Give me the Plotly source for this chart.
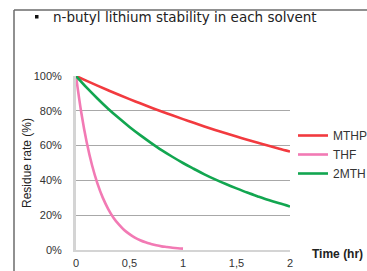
import plotly.graph_objects as go

# ---- data ----
t_long = [0, 0.1, 0.2, 0.3, 0.4, 0.5, 0.6, 0.7, 0.8, 0.9, 1.0,
          1.1, 1.2, 1.3, 1.4, 1.5, 1.6, 1.7, 1.8, 1.9, 2.0]
mthp = [1.0, 0.972, 0.945, 0.918, 0.892, 0.867, 0.843, 0.819, 0.796, 0.774, 0.752,
        0.731, 0.710, 0.690, 0.671, 0.652, 0.634, 0.616, 0.599, 0.582, 0.566]
mth2 = [1.0, 0.933, 0.871, 0.812, 0.758, 0.707, 0.660, 0.616, 0.574, 0.536, 0.500,
        0.467, 0.435, 0.406, 0.379, 0.354, 0.330, 0.308, 0.287, 0.268, 0.250]
t_thf = [0, 0.05, 0.1, 0.15, 0.2, 0.25, 0.3, 0.35, 0.4, 0.45, 0.5,
         0.55, 0.6, 0.65, 0.7, 0.75, 0.8, 0.85, 0.9, 0.95, 1.0]
thf = [1.0, 0.787, 0.619, 0.487, 0.383, 0.301, 0.237, 0.186, 0.147, 0.115, 0.091,
       0.071, 0.056, 0.044, 0.035, 0.027, 0.021, 0.017, 0.013, 0.010, 0.008]

x_tickvals = [0, 0.5, 1, 1.5, 2]
x_ticktext = ["0", "0,5", "1", "1,5", "2"]
y_tickvals = [0, 0.2, 0.4, 0.6, 0.8, 1.0]
y_ticktext = ["0%", "20%", "40%", "60%", "80%", "100%"]

title_text = "n-butyl lithium stability in each solvent"
y_title = "Residue rate (%)"
x_title = "Time (hr)"

W, H = 367, 271
L, R, T, B = 76, 290, 76, 250  # plot area in pixels


def px(xp):
    return (xp - L) / (R - L)


def py(yp):
    return (B - yp) / (B - T)


FONT = "Liberation Sans, Arial, sans-serif"

fig = go.Figure()
fig.add_trace(go.Scatter(x=t_long, y=mthp, name="MTHP", mode="lines",
                         line=dict(color="#f23a3f", width=2.6, shape="spline")))
fig.add_trace(go.Scatter(x=t_thf, y=thf, name="THF", mode="lines",
                         line=dict(color="#f27ab4", width=2.6, shape="spline")))
fig.add_trace(go.Scatter(x=t_long, y=mth2, name="2MTH", mode="lines",
                         line=dict(color="#12a650", width=2.6, shape="spline")))

fig.update_layout(
    width=W, height=H,
    margin=dict(l=L, r=W - R, t=T, b=H - B, autoexpand=False),
    paper_bgcolor="white", plot_bgcolor="white",
    font=dict(family=FONT, size=11, color="#333333"),
    showlegend=True,
    legend=dict(x=px(293), y=py(121), xanchor="left", yanchor="top",
                font=dict(family=FONT, size=12, color="#333333"),
                bgcolor="rgba(0,0,0,0)", borderwidth=0, tracegroupgap=0,
                itemwidth=30),
    xaxis=dict(range=[0, 2], tickvals=x_tickvals, ticktext=x_ticktext,
               showgrid=False, zeroline=False, showline=True,
               linecolor="#d4d4d4", linewidth=2, ticks="",
               ticklabelstandoff=2, automargin=False,
               tickfont=dict(family=FONT, size=11, color="#333333")),
    yaxis=dict(range=[0, 1], tickvals=y_tickvals, ticktext=y_ticktext,
               showgrid=True, gridcolor="#a8a8a8", gridwidth=1,
               zeroline=False, showline=True, linecolor="#d4d4d4", linewidth=3,
               ticks="", ticklabelstandoff=9, automargin=False,
               tickfont=dict(family=FONT, size=11, color="#333333")),
)

# frame lines of the slide box
fig.add_shape(type="line", xref="paper", yref="paper",
              x0=px(14), x1=px(14), y0=py(10), y1=py(275),
              line=dict(color="#6b6b6b", width=1.5))
fig.add_shape(type="line", xref="paper", yref="paper",
              x0=px(14), x1=px(370), y0=py(10), y1=py(10),
              line=dict(color="#6b6b6b", width=1.5))
# bullet
fig.add_shape(type="rect", xref="paper", yref="paper",
              x0=px(35), x1=px(38.5), y0=py(15), y1=py(18.5),
              fillcolor="#111111", line=dict(width=0))

fig.add_annotation(text=title_text, xref="paper", yref="paper",
                   x=px(51), y=py(17), xanchor="left", yanchor="middle",
                   showarrow=False,
                   font=dict(family="DejaVu Sans, sans-serif", size=13.5, color="#222222"))
fig.add_annotation(text=y_title, xref="paper", yref="paper",
                   x=px(27), y=py(163), xanchor="center", yanchor="middle",
                   textangle=-90, showarrow=False,
                   font=dict(family=FONT, size=12, color="#222222"))
fig.add_annotation(text="<b>" + x_title + "</b>", xref="paper", yref="paper",
                   x=px(337), y=py(254), xanchor="center", yanchor="middle",
                   showarrow=False,
                   font=dict(family=FONT, size=12, color="#222222"))

fig.write_html(
    "out.html",
    config={"displayModeBar": False},
    post_script="document.body.style.margin='0';"
                "document.documentElement.style.overflow='hidden';",
)
